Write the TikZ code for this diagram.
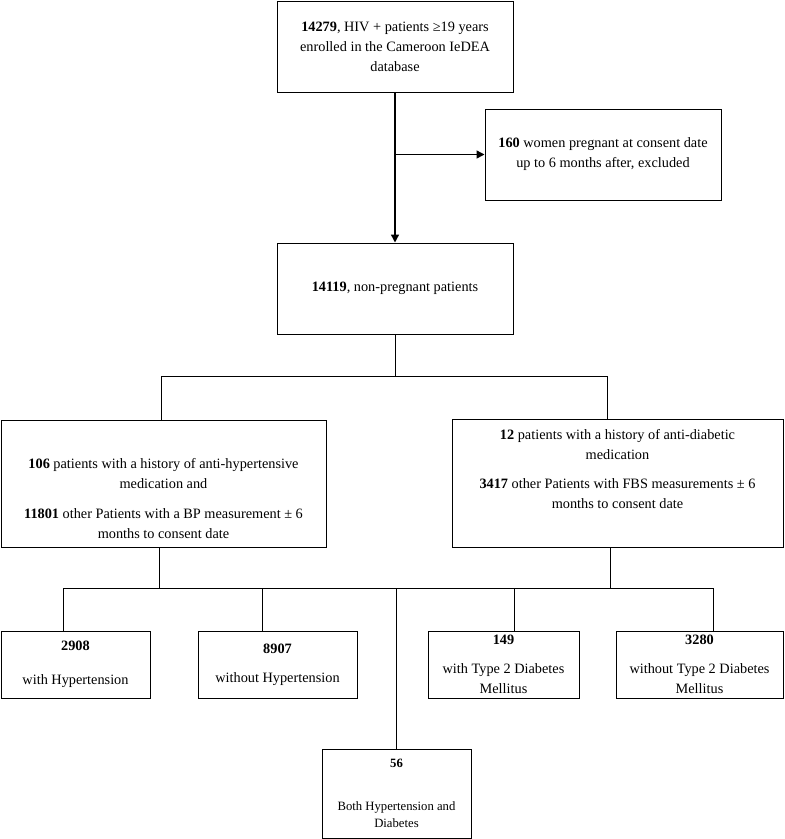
\documentclass[tikz,border=0pt]{standalone}
\usepackage{fontspec}
\setmainfont{Liberation Serif}
\usetikzlibrary{arrows.meta,positioning}
\tikzset{
  box/.style={draw,line width=1pt,inner sep=0pt,align=center,
    font=\fontsize{14.3}{20}\selectfont},
  txt/.style={align=center,inner sep=0pt,font=\fontsize{14.3}{20}\selectfont},
  arr/.style={line width=1.4pt,-{Triangle[length=8pt,width=8pt]}},
  link/.style={line width=1pt}
}
\begin{document}
\begin{tikzpicture}[x=1pt,y=-1pt]
      \useasboundingbox (0,0) rectangle (785,839);
      \node[box,minimum width=236,minimum height=91] (all) at (395,46.5)
        {\textbf{14279}, HIV + patients ≥19 years\\enrolled in the Cameroon IeDEA\\database};
      \node[box,minimum width=236,minimum height=91] (preg) at (603,154.5)
        {\textbf{160} women pregnant at consent date\\up to 6 months after, excluded};
      \node[box,minimum width=236,minimum height=91] (nonpreg) at (395,288.5)
        {\textbf{14119}, non-pregnant patients};
      \node[box,minimum width=325,minimum height=127] (htn) at (163.5,483.5) {};
      \node[txt] at ([yshift=-15pt]htn.center)
        {\textbf{106} patients with a history of anti-hypertensive\\medication and\\[10pt]
         \textbf{11801} other Patients with a BP measurement ± 6\\months to consent date};
      \node[box,minimum width=331,minimum height=128] (dm) at (617.5,483) {};
      \node[txt] at ([yshift=14pt]dm.center)
        {\textbf{12} patients with a history of anti-diabetic\\medication\\[9pt]
         \textbf{3417} other Patients with FBS measurements ± 6\\months to consent date};
      \node[box,minimum width=149,minimum height=67] (htnyes) at (75.5,664.5)
        {\textbf{2908}\\[14pt]with Hypertension};
      \node[box,minimum width=159,minimum height=67] (htnno) at (277.5,664.5)
        {\textbf{8907}\\[9pt]without Hypertension};
      \node[box,minimum width=151,minimum height=67] (dmyes) at (503.5,664.5)
        {\textbf{149}\\[9pt]with Type 2 Diabetes\\Mellitus};
      \node[box,minimum width=167,minimum height=67] (dmno) at (699.5,664.5)
        {\textbf{3280}\\[9pt]without Type 2 Diabetes\\Mellitus};
      \node[box,minimum width=149,minimum height=89,
        font=\fontsize{12.7}{17}\selectfont] (both) at (396.5,793.5)
        {\textbf{56}\\[26pt]Both Hypertension and\\Diabetes};
      \coordinate (split) at (all.south |- preg.west);
      \coordinate (forkL) at (161,376);
      \coordinate (forkR) at (607,376);
      \coordinate (busL) at (63,588);
      \coordinate (busR) at (713,588);
      \draw[arr] (all) -- (nonpreg);
      \draw[arr] (split) -- (preg);
      \begin{scope}[link]
        \draw (nonpreg.south) -- (nonpreg.south |- forkL);
        \draw (forkL) -- (forkR);
        \draw (forkL) -- (forkL |- htn.north);
        \draw (forkR) -- (forkR |- dm.north);
        \draw ([xshift=-4pt]htn.south) -- ([xshift=-4pt]htn.south |- busL);
        \draw ([xshift=-7pt]dm.south) -- ([xshift=-7pt]dm.south |- busL);
        \draw (busL) -- (busR);
        \foreach \x/\b in {63/htnyes,262/htnno,396/both,514/dmyes,713/dmno}
          \draw (\x,588) -- (\x,588 |- \b.north);
      \end{scope}
    \end{tikzpicture}
\end{document}
